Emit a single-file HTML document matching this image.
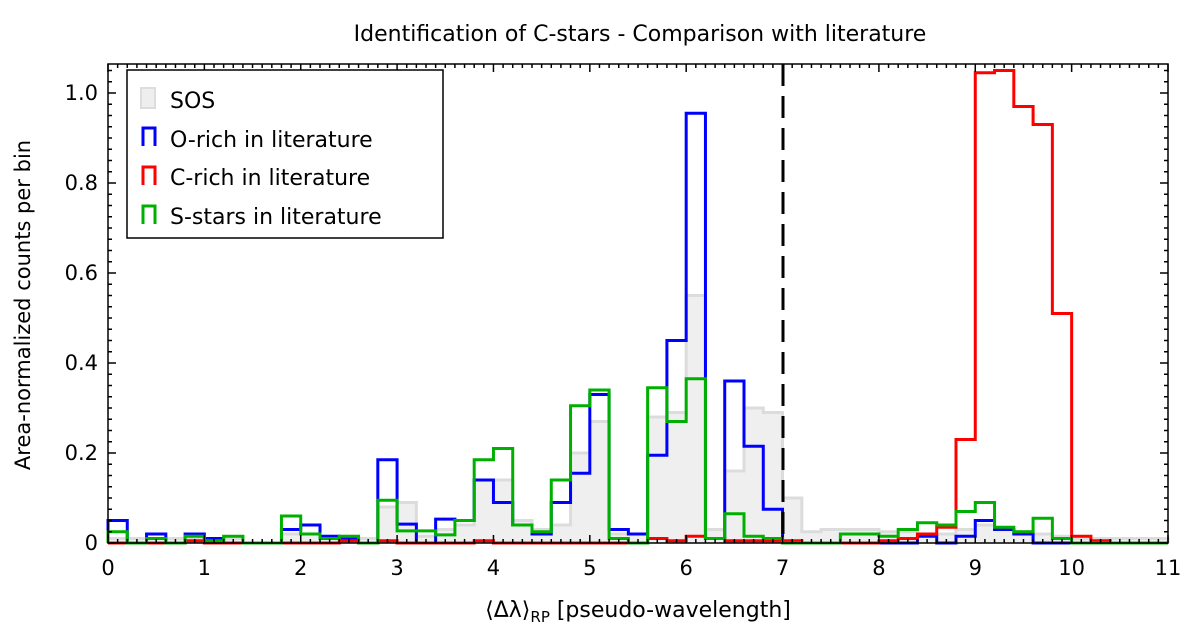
<!DOCTYPE html>
<html><head><meta charset="utf-8"><style>
body{margin:0;background:#fff;}
svg{display:block;font-family:"DejaVu Sans","Liberation Sans",sans-serif;}
</style></head><body>
<svg id="chart" width="1200" height="640" viewBox="0 0 1200 640">
<text x="640" y="41" text-anchor="middle" font-size="22" fill="#000">Identification of C-stars - Comparison with literature</text>
<g id="plot"></g>
<g id="axes"></g>
<line x1="783" y1="64" x2="783" y2="543" stroke="#000" stroke-width="3" stroke-dasharray="22,10"/>
<rect x="108" y="64" width="1060" height="479" fill="none" stroke="#000" stroke-width="1.5"/>
<g>
<rect x="127" y="70" width="316" height="168" fill="#fff" stroke="#000" stroke-width="1.5"/>
<g><rect x="141" y="88" width="14" height="20" fill="#eee" stroke="#ddd" stroke-width="2"/><text x="170" y="108" font-size="22">SOS</text></g>
<g><path d="M143,146 V128 H155 V146" fill="none" stroke="#0000ff" stroke-width="3"/><text x="170" y="147" font-size="22">O-rich in literature</text></g>
<g><path d="M143,185 V167 H155 V185" fill="none" stroke="#ff0000" stroke-width="3"/><text x="170" y="185" font-size="22">C-rich in literature</text></g>
<g><path d="M143,224 V206 H155 V224" fill="none" stroke="#00b000" stroke-width="3"/><text x="170" y="224" font-size="22">S-stars in literature</text></g>
</g>
<text x="0" y="0" transform="translate(30,305) rotate(-90)" text-anchor="middle" font-size="21">Area-normalized counts per bin</text>
<text x="638" y="617" text-anchor="middle" font-size="22">⟨Δλ⟩<tspan font-size="15" dy="5">RP</tspan><tspan dy="-5"> [pseudo-wavelength]</tspan></text>
</svg>
<script>
const binWidth = 0.2;
const sosValues = [0.01,0.01,0.01,0.01,0.01,0.01,0.01,0,0,0.02,0.02,0.015,0.015,0.01,0.08,0.09,0.015,0.03,0.04,0.14,0.14,0.05,0.03,0.04,0.2,0.27,0.02,0.02,0.28,0.29,0.55,0.03,0.16,0.3,0.29,0.1,0.025,0.03,0.03,0.03,0.025,0.025,0.02,0.02,0.03,0.04,0.03,0.025,0.02,0.015,0.01,0.01,0.01,0.01,0.01];
const oRichValues = [0.05,0,0.02,0,0.02,0.01,0,0,0,0.03,0.04,0.015,0.01,0,0.185,0.042,0,0.053,0.05,0.14,0.09,0.04,0.02,0.09,0.155,0.33,0.03,0.02,0.195,0.45,0.955,0.01,0.36,0.215,0.075,0,0,0,0,0,0,0,0.015,0,0.015,0.05,0.03,0.02,0,0,0,0,0,0,0];
const cRichValues = [0,0,0,0,0.005,0,0,0,0,0,0,0,0.005,0,0.005,0,0,0,0,0.005,0,0,0,0,0,0,0,0,0.01,0.005,0.015,0.01,0.005,0.005,0.005,0.005,0,0,0,0,0.005,0.01,0.02,0.035,0.23,1.045,1.05,0.97,0.93,0.51,0.015,0.005,0,0,0];
const sStarsValues = [0.025,0,0.01,0,0.015,0.005,0.015,0,0,0.06,0.02,0.01,0.015,0,0.095,0.027,0.027,0.018,0.05,0.185,0.21,0.04,0.025,0.14,0.305,0.34,0.01,0,0.345,0.27,0.365,0.01,0.065,0.015,0.01,0,0,0,0.02,0.02,0.015,0.03,0.045,0.04,0.07,0.09,0.035,0.025,0.055,0.01,0,0,0,0,0];
const xTickLabels = ["0","1","2","3","4","5","6","7","8","9","10","11"];
const yTickLabels = ["0","0.2","0.4","0.6","0.8","1.0"];

const X0=108,X1=1168,Y0=543,YT=64;
const xs = v => X0 + v/11*(X1-X0);
const ys = v => Y0 - v*450;
const NS="http://www.w3.org/2000/svg";
const plot=document.getElementById('plot'), axes=document.getElementById('axes');

function stepPath(vals){
  let d="M"+xs(0)+","+ys(0);
  vals.forEach((v,i)=>{ d+=" L"+xs(i*binWidth)+","+ys(v)+" L"+xs((i+1)*binWidth)+","+ys(v); });
  d+=" L"+xs(vals.length*binWidth)+","+ys(0);
  return d;
}
function addSeries(vals,stroke,fill,name){
  const p=document.createElementNS(NS,'path');
  p.setAttribute('d',stepPath(vals));
  p.setAttribute('stroke',stroke);
  p.setAttribute('stroke-width','3');
  p.setAttribute('fill',fill);
  
  
  plot.appendChild(p);
}
addSeries(sosValues,'#dcdcdc','#efefef','sos-histogram');
addSeries(oRichValues,'#0000ff','none','o-rich-histogram');
addSeries(cRichValues,'#ff0000','none','c-rich-histogram');
addSeries(sStarsValues,'#00b000','none','s-stars-histogram');

function line(x1,y1,x2,y2,w){
  const l=document.createElementNS(NS,'line');
  l.setAttribute('x1',x1);l.setAttribute('y1',y1);l.setAttribute('x2',x2);l.setAttribute('y2',y2);
  l.setAttribute('stroke','#000');l.setAttribute('stroke-width',w);
  
  
  axes.appendChild(l);
}
for(let i=0;i<=110;i++){
  const x=xs(i/10), major=i%10===0, len=major?8:4;
  line(x,Y0,x,Y0-len,1.5); line(x,YT,x,YT+len,1.5);
}
xTickLabels.forEach((t,i)=>{
  const tx=document.createElementNS(NS,'text');
  tx.setAttribute('x',xs(i));tx.setAttribute('y',575);tx.setAttribute('text-anchor','middle');tx.setAttribute('font-size','21');
  
  
  tx.textContent=t; axes.appendChild(tx);
});
for(let i=0;i<=42;i++){
  const v=i*0.025, y=ys(v); if(y<YT) break;
  const major=i%8===0, len=major?8:4;
  line(X0,y,X0+len,y,1.5); line(X1,y,X1-len,y,1.5);
}
yTickLabels.forEach((t,i)=>{
  const tx=document.createElementNS(NS,'text');
  tx.setAttribute('x',98);tx.setAttribute('y',ys(i*0.2)+7);tx.setAttribute('text-anchor','end');tx.setAttribute('font-size','21');
  
  
  tx.textContent=t; axes.appendChild(tx);
});
</script>
</body></html>
